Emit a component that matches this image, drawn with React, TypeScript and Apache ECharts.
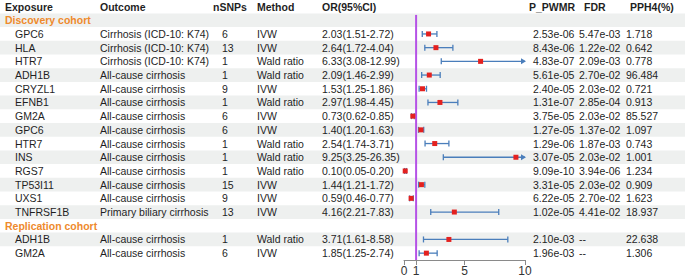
import React, { useEffect, useRef } from "react";
import * as echarts from "echarts";

// ---------- data ----------
const cohorts = ["Discovery cohort", "Replication cohort"];
const cohortSizes = [14, 2];
const exposures = ["GPC6", "HLA", "HTR7", "ADH1B", "CRYZL1", "EFNB1", "GM2A", "GPC6", "HTR7", "INS", "RGS7", "TP53I11", "UXS1", "TNFRSF1B", "ADH1B", "GM2A"];
const outcomes = [
  "Cirrhosis (ICD-10: K74)", "Cirrhosis (ICD-10: K74)", "Cirrhosis (ICD-10: K74)",
  "All-cause cirrhosis", "All-cause cirrhosis", "All-cause cirrhosis", "All-cause cirrhosis",
  "All-cause cirrhosis", "All-cause cirrhosis", "All-cause cirrhosis", "All-cause cirrhosis",
  "All-cause cirrhosis", "All-cause cirrhosis", "Primary biliary cirrhosis",
  "All-cause cirrhosis", "All-cause cirrhosis",
];
const nSNPs = [6, 13, 1, 1, 9, 1, 6, 6, 1, 1, 1, 15, 9, 13, 1, 6];
const methods = ["IVW", "IVW", "Wald ratio", "Wald ratio", "IVW", "Wald ratio", "IVW", "IVW", "Wald ratio", "Wald ratio", "Wald ratio", "IVW", "IVW", "IVW", "Wald ratio", "IVW"];
const orValues = [2.03, 2.64, 6.33, 2.09, 1.53, 2.97, 0.73, 1.40, 2.54, 9.25, 0.10, 1.44, 0.59, 4.16, 3.71, 1.85];
const ciLower = [1.51, 1.72, 3.08, 1.46, 1.25, 1.98, 0.62, 1.20, 1.74, 3.25, 0.05, 1.21, 0.46, 2.21, 1.61, 1.25];
const ciUpper = [2.72, 4.04, 12.99, 2.99, 1.86, 4.45, 0.85, 1.63, 3.71, 26.35, 0.20, 1.72, 0.77, 7.83, 8.58, 2.74];
const pPWMR = ["2.53e-06", "8.43e-06", "4.83e-07", "5.61e-05", "2.40e-05", "1.31e-07", "3.75e-05", "1.27e-05", "1.29e-06", "3.07e-05", "9.09e-10", "3.31e-05", "6.22e-05", "1.02e-05", "2.10e-03", "1.96e-03"];
const fdrValues = ["5.47e-03", "1.22e-02", "2.09e-03", "2.70e-02", "2.03e-02", "2.85e-04", "2.03e-02", "1.37e-02", "1.87e-03", "2.03e-02", "3.94e-06", "2.03e-02", "2.70e-02", "4.41e-02", "--", "--"];
const pph4 = ["1.718", "0.642", "0.778", "96.484", "0.721", "0.913", "85.527", "1.097", "0.743", "1.001", "1.234", "0.909", "1.623", "18.937", "22.638", "1.306"];
const headers = ["Exposure", "Outcome", "nSNPs", "Method", "OR(95%CI)", "P_PWMR", "FDR", "PPH4(%)"];
const xTicks = [0, 1, 5, 10];
const refLine = 1;
const xMin = 0;
const xMax = 10;

// ---------- layout / style ----------
const W = 685;
const H = 277;
const FONT = "'Liberation Sans', Arial, sans-serif";
const FS = 10.5;
const TEXT = "#1f1f1f";
const ORANGE = "#EE8A2C";
const BAND = "#eef0ef";
const BLUE = "#4a7ebb";
const RED = "#e3211f";
const PURPLE = "#b552e6";
const headerX = [5, 100, 213, 257, 322, 529, 584, 630];
const bodyX = [15, 100, 222, 257, 322, 533, 579, 626];
const groupX = 5;

type Row = { kind: "group"; label: string } | { kind: "item"; i: number };

function buildRows(): Row[] {
  const rows: Row[] = [];
  let k = 0;
  cohorts.forEach((c, ci) => {
    rows.push({ kind: "group", label: c });
    for (let j = 0; j < cohortSizes[ci]; j++) rows.push({ kind: "item", i: k++ });
  });
  return rows;
}

export default function App() {
  const ref = useRef<HTMLDivElement>(null);
  useEffect(() => {
    if (!ref.current) return;
    const chart = echarts.init(ref.current, null, { renderer: "svg" });
    const rows = buildRows();
    const nRows = rows.length;
    const fmt = (v: number) => v.toFixed(2);

    const txt = (x: number, y: number, s: string, bold = false, color = TEXT) => ({
      type: "text",
      x,
      y,
      style: {
        text: s,
        fill: color,
        font: `${bold ? "bold " : ""}${FS}px ${FONT}`,
        verticalAlign: "middle",
        align: "left",
      },
    });

    const bandData = rows.map((_, r) => [0, r]).filter((_, r) => r % 2 === 0);
    const tableData = [[0, -1], ...rows.map((_, r) => [0, r])];
    const barData: number[][] = [];
    rows.forEach((row, r) => {
      if (row.kind === "item") barData.push([orValues[row.i], ciLower[row.i], ciUpper[row.i], r]);
    });

    const option: any = {
      animation: false,
      backgroundColor: "#ffffff",
      grid: {
        left: 404,
        width: 121,
        top: 13.4,
        height: 246.6,
        containLabel: false,
        outerBoundsMode: "none",
      },
      xAxis: {
        type: "value",
        position: "bottom",
        min: xMin,
        max: xMax,
        splitLine: { show: false },
        axisLine: { show: true, onZero: false, lineStyle: { color: "#8a8a8a", width: 1 } },
        axisTick: { show: true, length: 5, lineStyle: { color: "#8a8a8a" }, customValues: xTicks },
        axisLabel: {
          show: true,
          color: "#333",
          fontSize: 12,
          fontFamily: FONT,
          margin: 5,
          customValues: xTicks,
        },
      },
      yAxis: {
        type: "value",
        min: -0.5,
        max: nRows - 0.5,
        inverse: true,
        show: false,
        splitLine: { show: false },
      },
      series: [
        {
          type: "custom",
          name: "bands",
          clip: false,
          silent: true,
          z: 0,
          data: bandData,
          encode: { x: 0, y: 1 },
          renderItem: (params: any, api: any) => {
            const p = api.coord([0, api.value(1)]);
            const h = Math.abs(api.size([0, 1])[1]);
            return {
              type: "rect",
              shape: { x: 0, y: p[1] - h / 2, width: W, height: h },
              style: { fill: BAND },
            };
          },
        },
        {
          type: "custom",
          name: "table",
          clip: false,
          silent: true,
          z: 3,
          data: tableData,
          encode: { x: 0, y: 1 },
          renderItem: (params: any, api: any) => {
            const idx = params.dataIndex;
            const r = idx - 1;
            const y = api.coord([0, r])[1];
            if (idx === 0) {
              return {
                type: "group",
                children: headers.map((s, c) => txt(headerX[c], y, s, true)),
              };
            }
            const row = rows[r];
            if (row.kind === "group") {
              return { type: "group", children: [txt(groupX, y, row.label, true, ORANGE)] };
            }
            const i = row.i;
            const cells = [
              exposures[i],
              outcomes[i],
              String(nSNPs[i]),
              methods[i],
              `${fmt(orValues[i])}(${fmt(ciLower[i])}-${fmt(ciUpper[i])})`,
              pPWMR[i],
              fdrValues[i],
              pph4[i],
            ];
            return { type: "group", children: cells.map((s, c) => txt(bodyX[c], y, s)) };
          },
        },
        {
          type: "custom",
          name: "refline",
          clip: false,
          silent: true,
          z: 4,
          data: [[refLine, -0.5, nRows - 0.5]],
          encode: { x: 0, y: [1, 2] },
          renderItem: (params: any, api: any) => {
            const a = api.coord([api.value(0), api.value(1)]);
            const b = api.coord([api.value(0), api.value(2)]);
            return {
              type: "line",
              shape: { x1: a[0], y1: a[1] + 1.5, x2: b[0], y2: b[1] },
              style: { stroke: PURPLE, lineWidth: 2 },
            };
          },
        },
        {
          type: "custom",
          name: "forest",
          clip: false,
          z: 5,
          data: barData,
          encode: { x: [0, 1, 2], y: 3 },
          renderItem: (params: any, api: any) => {
            const or = api.value(0);
            const lo = api.value(1);
            const hi = api.value(2);
            const r = api.value(3);
            const hiC = Math.min(hi, xMax);
            const a = api.coord([lo, r]);
            const b = api.coord([hiC, r]);
            const m = api.coord([or, r]);
            const y = a[1];
            const ls = { stroke: BLUE, lineWidth: 1.3 };
            const children: any[] = [
              { type: "line", shape: { x1: a[0], y1: y, x2: b[0], y2: y }, style: ls },
              { type: "line", shape: { x1: a[0], y1: y - 3, x2: a[0], y2: y + 3 }, style: ls },
            ];
            if (hi > xMax) {
              children.push({
                type: "polygon",
                shape: { points: [[b[0] + 1, y], [b[0] - 4, y - 3], [b[0] - 4, y + 3]] },
                style: { fill: BLUE },
              });
            } else {
              children.push({ type: "line", shape: { x1: b[0], y1: y - 3, x2: b[0], y2: y + 3 }, style: ls });
            }
            children.push({
              type: "rect",
              shape: { x: m[0] - 2.5, y: y - 2.5, width: 5, height: 5 },
              style: { fill: RED },
            });
            return { type: "group", children };
          },
        },
      ],
    };
    chart.setOption(option);
    return () => chart.dispose();
  }, []);
  return (
    <div
      ref={ref}
      style={{ position: "fixed", left: 0, top: 0, width: W, height: H, background: "#fff" }}
    />
  );
}
